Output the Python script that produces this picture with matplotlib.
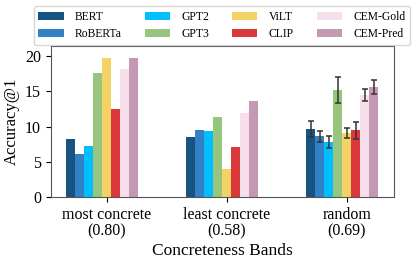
import numpy as np
import matplotlib
matplotlib.use("Agg")
import matplotlib.pyplot as plt

plt.rcParams['font.family'] = ['Liberation Serif', 'DejaVu Serif']

bands = ["most concrete\n(0.80)", "least concrete\n(0.58)", "random\n(0.69)"]
models = ["BERT", "RoBERTa", "GPT2", "GPT3", "ViLT", "CLIP", "CEM-Gold", "CEM-Pred"]
colors = ["#175482", "#3181c4", "#00bfff", "#97c57e", "#f3d365", "#da383b", "#f6dfea", "#c598b3"]

most_concrete = [8.27, 6.07, 7.24, 17.57, 19.8, 12.43, 18.18, 19.8]
least_concrete = [8.46, 9.44, 9.3, 11.4, 3.93, 7.06, 11.87, 13.64]
random_band = [9.67, 8.64, 7.8, 15.19, 9.11, 9.44, 14.49, 15.56]
random_err = [1.15, 0.77, 0.9, 1.87, 0.75, 1.15, 0.82, 1.0]

values = np.array([most_concrete, least_concrete, random_band])

fig = plt.figure(figsize=(4.2, 2.65), dpi=100)
ax = fig.add_axes([0.121, 0.257, 0.817, 0.568])

x = np.arange(len(bands))
w = 0.075
for i, m in enumerate(models):
    ax.bar(x + (i - 4) * w, values[:, i], w, color=colors[i], label=m)
    # error bars only on the random band
    ax.errorbar(x[2] + (i - 4) * w, values[2, i], yerr=random_err[i],
                fmt='none', ecolor='#333333', elinewidth=1.1, capsize=2, capthick=1.1)

ax.set_ylim(0, 21.4)
ax.set_yticks([0, 5, 10, 15, 20])
ax.set_xticks(x)
ax.set_xticklabels(bands, fontsize=11.5, linespacing=1.1)
ax.tick_params(axis='y', labelsize=11.5)
ax.set_ylabel("Accuracy@1", fontsize=12)
ax.set_xlabel("Concreteness Bands", fontsize=12.5, labelpad=2)
for s in ax.spines.values():
    s.set_color('#555555')

ax.legend(ncol=4, loc='lower center', bbox_to_anchor=(0.4985, 1.01),
          fontsize=8.4, handlelength=2.15, handleheight=0.7, handletextpad=0.95,
          columnspacing=2.0, borderpad=0.4, labelspacing=0.45, borderaxespad=0.0,
          frameon=True, fancybox=True)

fig.savefig("out.png", dpi=100)
